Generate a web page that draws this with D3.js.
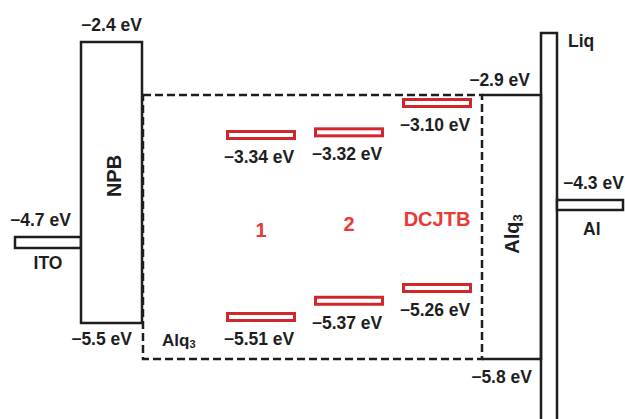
<!DOCTYPE html>
<html>
<head>
<meta charset="utf-8">
<script src="https://cdn.jsdelivr.net/npm/d3@7/dist/d3.min.js"></script>
<style>
  body { margin: 0; background: #fff; }
  text { font-family: "Liberation Sans", Arial, sans-serif; font-weight: bold; }
</style>
</head>
<body>
<div id="chart"></div>
<script>
// energy levels (eV)
const npbLevels = [-2.4, -5.5];     // LUMO, HOMO
const alqLevels = [-2.9, -5.8];
const itoLevel = -4.7;
const alLevel = -4.3;

const dopantNames = ["1", "2", "DCJTB"];
const dopantLumo = [-3.34, -3.32, -3.10];
const dopantHomo = [-5.51, -5.37, -5.26];

const W = 625, H = 419;
const ink = "#1e1e1e";
const redBar = "#d1262c", redText = "#e83a37";
const fmt1 = v => "\u2212" + Math.abs(v).toFixed(1) + " eV";
const fmt2 = v => "\u2212" + Math.abs(v).toFixed(2) + " eV";

const svg = d3.select("#chart").append("svg")
  .attr("width", W).attr("height", H);

// schematic (not to scale) energy axis
const y = d3.scaleLinear()
  .domain([-2.4, -2.9, -4.3, -4.7, -5.5, -5.8])
  .range([42, 95, 200, 237, 323, 359]);
// dopant levels inside the host box have their own axis
const yd = d3.scaleLinear()
  .domain([-3.10, -3.34, -5.26, -5.51])
  .range([103, 135, 288, 317]);
const xd = d3.scalePoint().domain(dopantNames).range([261, 437]);

// layer boundaries
const xIto = [15, 81], xNpb = [81, 142], xHost = [143, 482], xAlq = [482, 541],
      xLiq = [541, 557], xAl = [557, 623];

// host Alq3 dashed box
svg.append("rect")
  .attr("x", xHost[0]).attr("y", y(alqLevels[0]))
  .attr("width", xHost[1] - xHost[0]).attr("height", y(alqLevels[1]) - y(alqLevels[0]))
  .attr("fill", "none").attr("stroke", ink).attr("stroke-width", 2.5)
  .attr("stroke-dasharray", "8,4");

// ITO
svg.append("rect")
  .attr("x", xIto[0]).attr("y", y(itoLevel))
  .attr("width", xIto[1] - xIto[0]).attr("height", 11)
  .attr("fill", "#fff").attr("stroke", ink).attr("stroke-width", 2.5);

// NPB
svg.append("rect")
  .attr("x", xNpb[0]).attr("y", y(npbLevels[0]))
  .attr("width", xNpb[1] - xNpb[0]).attr("height", y(npbLevels[1]) - y(npbLevels[0]))
  .attr("fill", "#fff").attr("stroke", ink).attr("stroke-width", 2.5);

// Alq3 (no left edge, the dashed line sits there)
svg.append("path")
  .attr("d", `M${xAlq[0]},${y(alqLevels[0])}H${xAlq[1]}V${y(alqLevels[1])}H${xAlq[0]}`)
  .attr("fill", "none").attr("stroke", ink).attr("stroke-width", 2.5);

// Liq
svg.append("rect")
  .attr("x", xLiq[0]).attr("y", 33)
  .attr("width", xLiq[1] - xLiq[0]).attr("height", H)
  .attr("fill", "none").attr("stroke", ink).attr("stroke-width", 2.5);

// Al
svg.append("rect")
  .attr("x", xAl[0]).attr("y", y(alLevel))
  .attr("width", xAl[1] - xAl[0]).attr("height", 10)
  .attr("fill", "#fff").attr("stroke", ink).attr("stroke-width", 2.5);

// dopant levels
const barW = 67, barH = 7;
dopantNames.forEach((d, i) => {
  [dopantLumo[i], dopantHomo[i]].forEach(v => {
    svg.append("rect")
      .attr("x", xd(d) - barW / 2).attr("y", yd(v) - barH / 2)
      .attr("width", barW).attr("height", barH)
      .attr("fill", "#fff").attr("stroke", redBar).attr("stroke-width", 3);
    svg.append("text")
      .attr("x", xd(d) - 2).attr("y", yd(v) + 28)
      .attr("text-anchor", "middle").attr("fill", ink)
      .style("font-size", "17.5px").text(fmt2(v));
  });
});
const nameBase = [237, 231, 226];
dopantNames.forEach((d, i) => {
  svg.append("text")
    .attr("x", xd(d)).attr("y", nameBase[i])
    .attr("text-anchor", "middle").attr("fill", redText)
    .style("font-size", "20px").text(d);
});

// level labels
const label = (x, yy, t, anchor) => svg.append("text")
  .attr("x", x).attr("y", yy).attr("text-anchor", anchor || "start")
  .attr("fill", ink).style("font-size", "17.5px").text(t);

label((xNpb[0] + xNpb[1]) / 2, y(npbLevels[0]) - 11, fmt1(npbLevels[0]), "middle");
label(xNpb[1] - 10, y(npbLevels[1]) + 22, fmt1(npbLevels[1]), "end");
label(xAlq[1] - 11, y(alqLevels[0]) - 9, fmt1(alqLevels[0]), "end");
label(xAlq[1] - 9, y(alqLevels[1]) + 24, fmt1(alqLevels[1]), "end");
label(10, y(itoLevel) - 11, fmt1(itoLevel));
label((xIto[0] + xIto[1]) / 2, y(itoLevel) + 32, "ITO", "middle");
label(xAl[0] + 6, y(alLevel) - 11, fmt1(alLevel));
label(xAl[0] + 26, y(alLevel) + 35, "Al");
label(xLiq[1] + 11, 47, "Liq");

// host label
const host = svg.append("text").attr("x", 162).attr("y", 346)
  .attr("fill", ink).style("font-size", "17px");
host.append("tspan").text("Alq");
host.append("tspan").attr("dy", 2).style("font-size", "11px").text("3");

// rotated layer names
const vlabel = (cx, cy, parts) => {
  const t = svg.append("text")
    .attr("transform", `translate(${cx},${cy}) rotate(-90)`)
    .attr("text-anchor", "middle").attr("fill", ink).style("font-size", "20px");
  parts(t);
};
vlabel(121, 176, t => t.text("NPB"));
vlabel(519, 234, t => {
  t.append("tspan").text("Alq");
  t.append("tspan").attr("dy", 3).style("font-size", "13px").text("3");
});
</script>
</body>
</html>
